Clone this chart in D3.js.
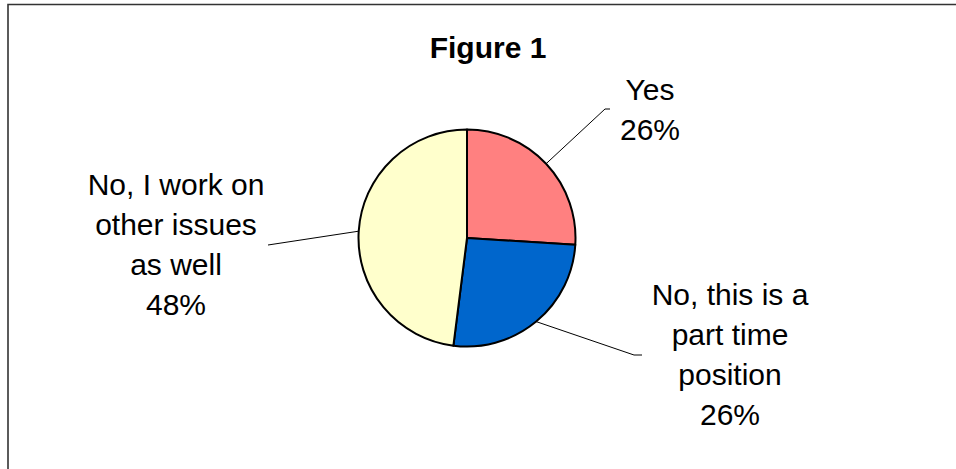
<!DOCTYPE html>
<html><head><meta charset="utf-8">
<script src="https://cdn.jsdelivr.net/npm/d3@7"></script>
<style>html,body{margin:0;padding:0;background:#fff;}svg{display:block;}</style>
</head><body>
<svg id="c" width="956" height="469"></svg>
<script>
const categories = ["Yes", "No, this is a part time position", "No, I work on other issues as well"];
const values = [26, 26, 48];
const labelLines = [["Yes", "26%"], ["No, this is a", "part time", "position", "26%"], ["No, I work on", "other issues", "as well", "48%"]];
const colors = ["#FF8080", "#0066CC", "#FFFFCC"];
const title = "Figure 1";

const svg = d3.select("#c");
const font = "'Liberation Sans', Arial, sans-serif";

// frame
svg.append("path").attr("d", "M8,475 L8,4.5 L960,4.5")
  .attr("fill", "none").attr("stroke", "#333").attr("stroke-width", 1.6);

svg.append("text").attr("x", 488).attr("y", 58).attr("text-anchor", "middle")
  .attr("font-family", font).attr("font-weight", "bold").attr("font-size", 30).text(title);

const cx = 467, cy = 238, r = 108.5;
const pie = d3.pie().sort(null).value(d => d)(values);
const arc = d3.arc().innerRadius(0).outerRadius(r);
const g = svg.append("g").attr("transform", `translate(${cx},${cy})`);

// label layout: [line end x, y, hook end x, label center x, first baseline]
const layout = [
  {ex: 605, ey: 109, hx: 610, lx: 650, ly: 100},
  {ex: 634, ey: 355, hx: 642, lx: 730, ly: 305},
  {ex: 268, ey: 245, hx: 268, lx: 176, ly: 195}
];

pie.forEach((p, i) => {
  const a = (p.startAngle + p.endAngle) / 2;
  const sx = cx + r * Math.sin(a), sy = cy - r * Math.cos(a);
  const L = layout[i];
  svg.append("polyline")
    .attr("points", `${sx},${sy} ${L.ex},${L.ey} ${L.hx},${L.ey}`)
    .attr("fill", "none").attr("stroke", "#000").attr("stroke-width", 1);
});

g.selectAll("path.slice").data(pie).join("path").attr("class", "slice")
  .attr("d", arc).attr("fill", (d, i) => colors[i])
  .attr("stroke", "#000").attr("stroke-width", 2).attr("stroke-linejoin", "round");

labelLines.forEach((lines, i) => {
  const L = layout[i];
  const t = svg.append("text").attr("text-anchor", "middle")
    .attr("font-family", font).attr("font-size", 30);
  lines.forEach((s, j) => {
    t.append("tspan").attr("x", L.lx).attr("y", L.ly + j * 40).text(s);
  });
});
</script>
</body></html>
